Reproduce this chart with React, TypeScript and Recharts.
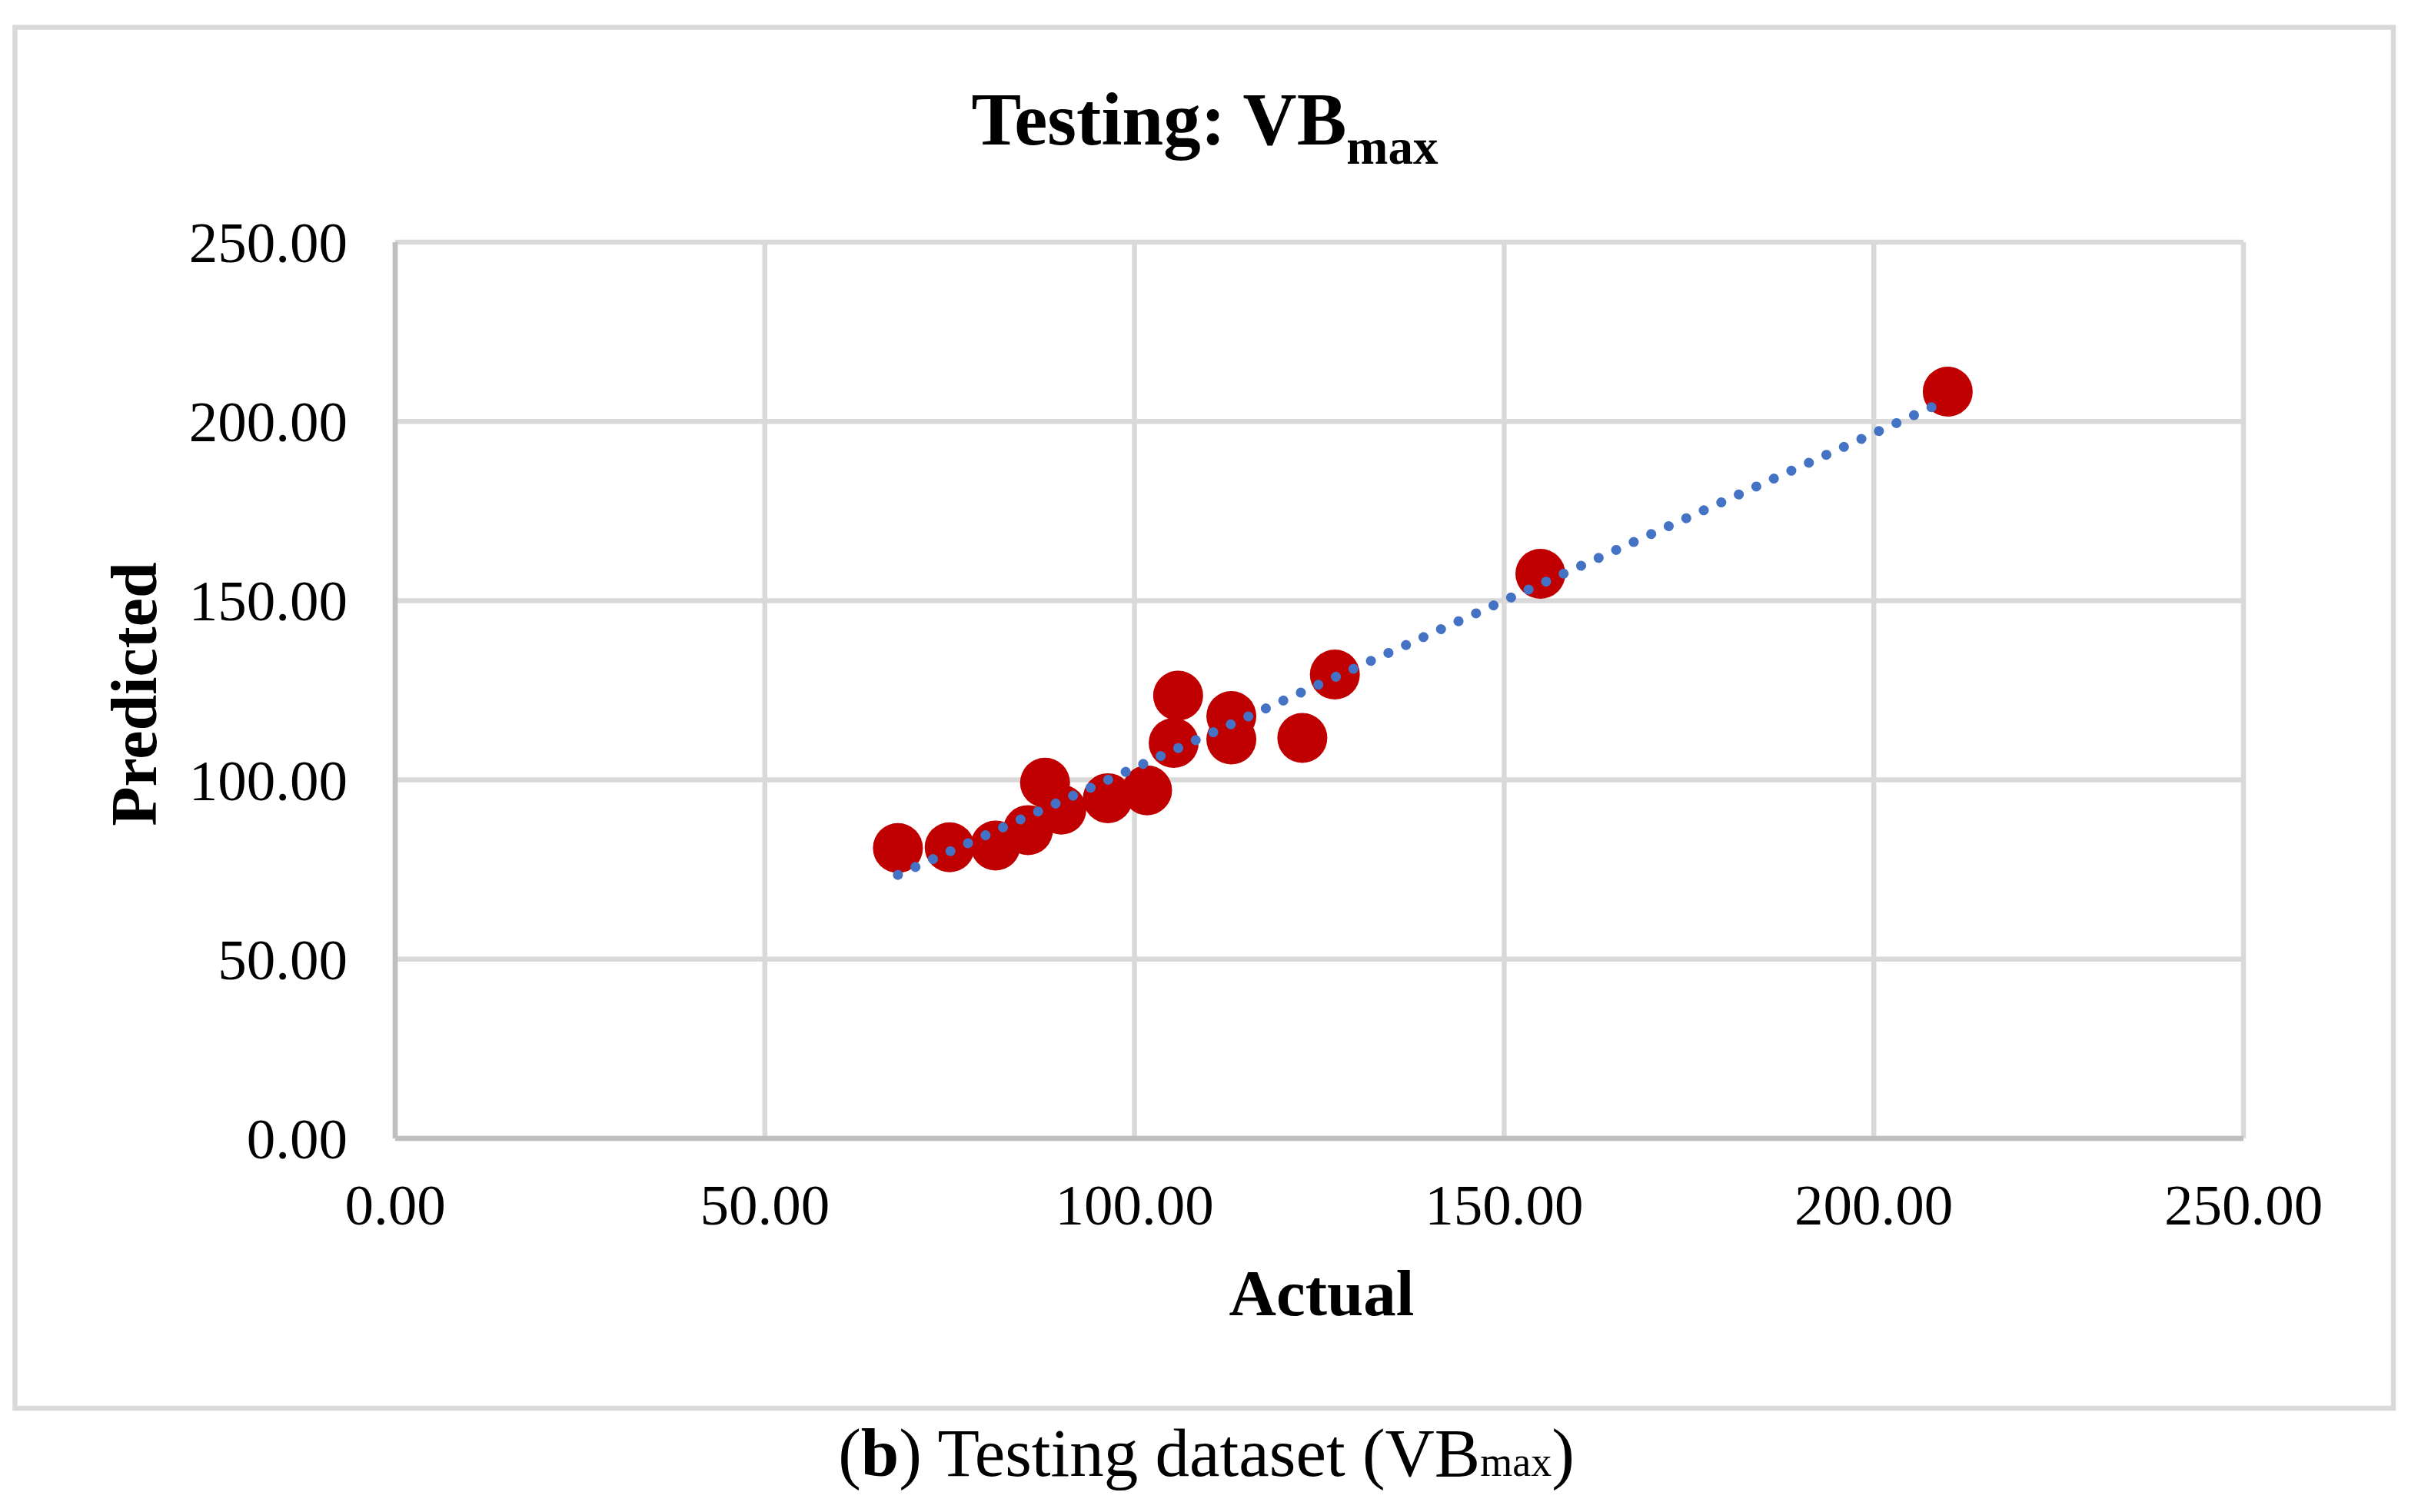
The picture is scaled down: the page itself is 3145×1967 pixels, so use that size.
import React from 'react';
import { ScatterChart, Scatter, XAxis, YAxis, CartesianGrid } from 'recharts';

const actualVals = [68.0, 75.0, 81.2, 85.6, 87.9, 90.1, 96.4, 101.7, 105.3, 105.9, 113.1, 113.1, 122.7, 127.1, 154.9, 210.0];
const predictedVals = [81.0, 81.2, 81.7, 86.0, 99.2, 91.7, 94.9, 97.1, 110.3, 123.5, 117.8, 111.3, 111.7, 129.4, 157.5, 208.3];

// linear trendline ends
const trendX = [68.0, 210.0];
const trendY = [73.5, 206.0];

const axisTicks = [0, 50, 100, 150, 200, 250];

const points = actualVals.map((x, i) => ({ x, y: predictedVals[i] }));
const trend = trendX.map((x, i) => ({ x, y: trendY[i] }));

const W = 3145;
const H = 1967;
const FONT = "'Times New Roman', 'Liberation Serif', serif";

const XTick = (props: any) => (
  <text x={props.x} y={props.y} dy={112} textAnchor="middle" fontFamily={FONT} fontSize={75} fill="#000">
    {Number(props.payload.value).toFixed(2)}
  </text>
);

const YTick = (props: any) => (
  <text x={props.x} y={props.y} dy={26} textAnchor="end" fontFamily={FONT} fontSize={75} fill="#000">
    {Number(props.payload.value).toFixed(2)}
  </text>
);

const Dot = (props: any) => <circle cx={props.cx} cy={props.cy} r={32.5} fill="#C00000" />;

export default function App() {
  return (
    <div style={{ position: 'absolute', left: 0, top: 0, width: W, height: H, background: '#fff' }}>
      <ScatterChart width={W} height={H} margin={{ top: 315, right: 227, bottom: 386, left: 314 }}>
        <CartesianGrid stroke="#D9D9D9" strokeWidth={6.5} />
        <XAxis
          type="number"
          dataKey="x"
          domain={[0, 250]}
          ticks={axisTicks}
          height={100}
          tickSize={0}
          tickMargin={0}
          tick={<XTick />}
          axisLine={{ stroke: '#BFBFBF', strokeWidth: 6.5 }}
          tickLine={false}
        />
        <YAxis
          type="number"
          dataKey="y"
          domain={[0, 250]}
          ticks={axisTicks}
          width={200}
          tickSize={0}
          tickMargin={62}
          tick={<YTick />}
          axisLine={{ stroke: '#BFBFBF', strokeWidth: 6.5 }}
          tickLine={false}
        />
        <Scatter data={points} shape={<Dot />} isAnimationActive={false} />
        <Scatter
          data={trend}
          line={{ stroke: '#4472C4', strokeWidth: 13, strokeDasharray: '0.01 25', strokeLinecap: 'round' }}
          shape={() => <g />}
          isAnimationActive={false}
        />
      </ScatterChart>
      <svg width={W} height={H} style={{ position: 'absolute', left: 0, top: 0, pointerEvents: 'none' }}>
        <rect x={19.5} y={35.5} width={3093.5} height={1796.5} fill="none" stroke="#D9D9D9" strokeWidth={6.5} />
        <text x={1567} y={188} textAnchor="middle" fontFamily={FONT} fontWeight="bold" fontSize={97} fill="#000">
          Testing: VB<tspan fontSize={65} dy={25}>max</tspan>
        </text>
        <text x={1719} y={1711} textAnchor="middle" fontFamily={FONT} fontWeight="bold" fontSize={85} fill="#000">
          Actual
        </text>
        <text x={203} y={903} transform="rotate(-90 203 903)" textAnchor="middle" fontFamily={FONT} fontWeight="bold" fontSize={84} fill="#000">
          Predicted
        </text>
        <text x={1569} y={1920} textAnchor="middle" fontFamily={FONT} fontSize={89} fill="#000">
          (<tspan fontWeight="bold">b</tspan>) Testing dataset (VB<tspan fontSize={54}>max</tspan>)
        </text>
      </svg>
    </div>
  );
}
